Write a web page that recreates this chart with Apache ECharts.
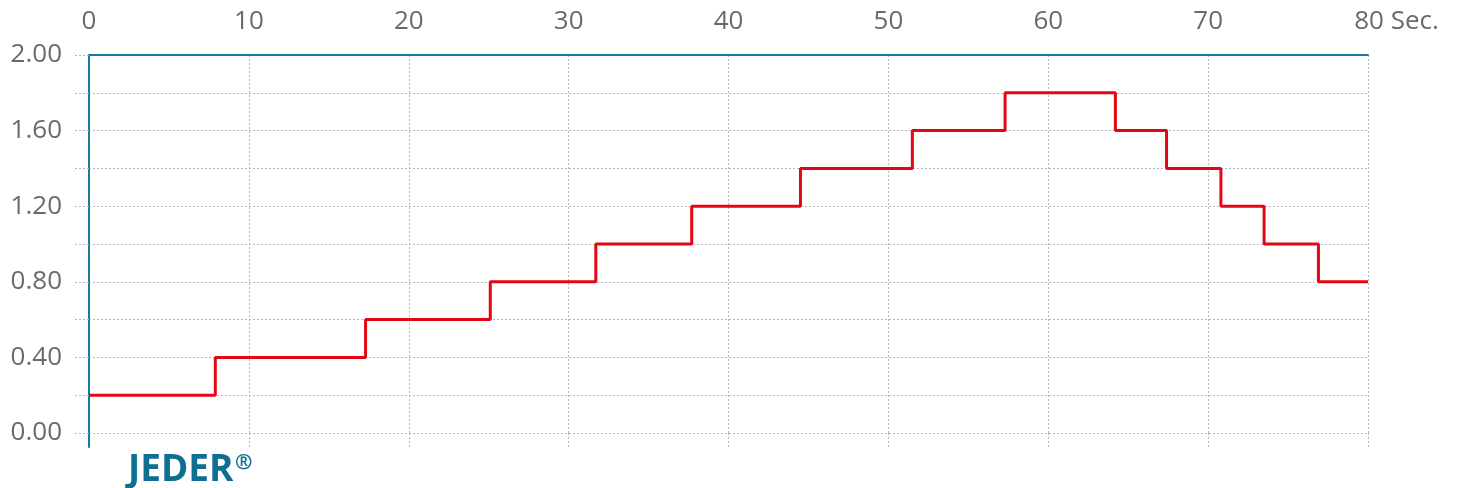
<!DOCTYPE html>
<html>
<head>
<meta charset="utf-8">
<script src="https://cdn.jsdelivr.net/npm/echarts@6/dist/echarts.min.js"></script>
<style>html,body{margin:0;padding:0;background:#fff}#c{width:1464px;height:488px}</style>
</head>
<body>
<div id="c"></div>
<script>
// Data
const stepTimes  = [0, 7.9, 17.3, 25.1, 31.7, 37.7, 44.5, 51.5, 57.3, 64.2, 67.4, 70.8, 73.5, 76.9, 80];
const stepValues = [0.2, 0.4, 0.6, 0.8, 1.0, 1.2, 1.4, 1.6, 1.8, 1.6, 1.4, 1.2, 1.0, 0.8, 0.8];
const xTickLabels = ['0', '10', '20', '30', '40', '50', '60', '70', '80'];
const xUnit = 'Sec.';
const brand = 'JEDER';
const brandMark = '®';

const BLUE = '#16799f';
const RED = '#e30613';
const GRID = '#b8b8b8';
const TXT = '#6a6a6a';
const LOGO = '#0f6f93';
const FONT = '"Open Sans", "Noto Sans", sans-serif';

const seriesData = stepTimes.map((t, i) => [t, stepValues[i]]);

const chart = echarts.init(document.getElementById('c'), null, {renderer: 'canvas'});
chart.setOption({
  animation: false,
  textStyle: {fontFamily: FONT},
  grid: [
    {left: 89, right: 96, top: 55, bottom: 55},
    {left: 89, right: 96, top: 433, height: 14}
  ],
  xAxis: [
    {
      gridIndex: 0, type: 'value', position: 'top', min: 0, max: 80, interval: 10,
      axisLine: {onZero: false, lineStyle: {color: BLUE, width: 2}},
      axisTick: {show: false},
      splitLine: {show: true, lineStyle: {color: GRID, type: [2, 2], width: 1}},
      axisLabel: {
        margin: 20, color: TXT, fontSize: 26, fontFamily: FONT,
        formatter: function (v) {
          const i = Math.round(v / 10);
          const s = xTickLabels[i];
          if (i === xTickLabels.length - 1) return '{p|}' + s + ' ' + xUnit;
          return s;
        },
        rich: {p: {width: 57}}
      }
    },
    {
      gridIndex: 1, type: 'value', min: 0, max: 80, interval: 10,
      axisLine: {show: false}, axisTick: {show: false}, axisLabel: {show: false},
      splitLine: {show: true, lineStyle: {color: GRID, type: [2, 2], width: 1}}
    }
  ],
  yAxis: [
    {
      gridIndex: 0, type: 'value', min: 0, max: 2, interval: 0.2,
      axisLine: {show: true, lineStyle: {color: BLUE, width: 2}},
      axisTick: {show: true, length: 15, lineStyle: {color: GRID, type: [2, 2], width: 1}},
      splitLine: {show: true, lineStyle: {color: GRID, type: [2, 2], width: 1}},
      axisLabel: {
        margin: 27, color: TXT, fontSize: 26, fontFamily: FONT,
        formatter: function (v) {
          const k = Math.round(v * 10);
          return (k % 4 === 0) ? v.toFixed(2) : '';
        }
      }
    },
    {
      gridIndex: 1, type: 'value', min: 0, max: 1,
      axisLine: {show: true, lineStyle: {color: BLUE, width: 2}},
      axisTick: {show: false}, axisLabel: {show: false}, splitLine: {show: false}
    }
  ],
  series: [{
    type: 'line', xAxisIndex: 0, yAxisIndex: 0,
    step: 'end', data: seriesData, showSymbol: false, symbol: 'none',
    lineStyle: {color: RED, width: 3}
  }],
  graphic: [
    {
      type: 'text', x: 128, y: 470,
      style: {text: brand, fill: LOGO, font: 'bold 37px ' + FONT, align: 'left', verticalAlign: 'middle'}
    },
    {
      type: 'text', x: 235, y: 463,
      style: {text: brandMark, fill: LOGO, font: 'bold 21px ' + FONT, align: 'left', verticalAlign: 'middle'}
    }
  ]
});
</script>
</body>
</html>
